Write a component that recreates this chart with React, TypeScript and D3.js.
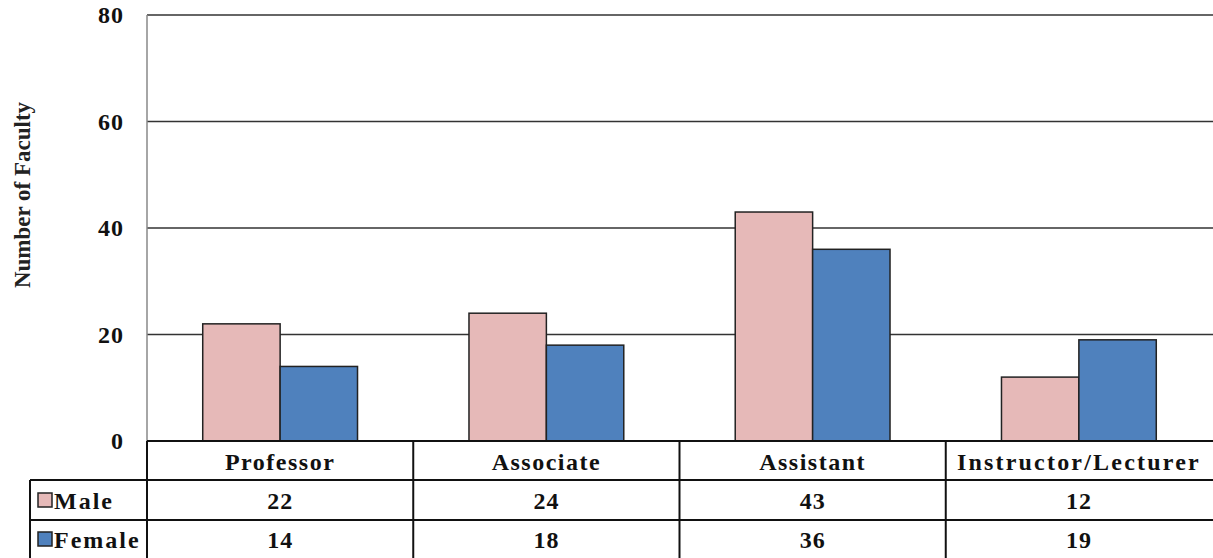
import React from "react";
import * as d3 from "d3";

const categories = ["Professor", "Associate", "Assistant", "Instructor/Lecturer"];
const seriesNames = ["Male", "Female"];
const maleValues = [22, 24, 43, 12];
const femaleValues = [14, 18, 36, 19];
const yTicks = [0, 20, 40, 60, 80];
const colors = ["#E6B9B8", "#4F81BD"];

export default function App() {
  const W = 1213, H = 558;
  const left = 147, right = 1212, top = 15, bottom = 441;
  const tableLeft = 30;
  const rowH = [441, 480, 520, 558];
  const series = [maleValues, femaleValues];

  const x = d3.scaleBand<string>().domain(categories).range([left, right]).paddingInner(0).paddingOuter(0);
  const x1 = d3.scaleBand<string>().domain(seriesNames).range([0, x.bandwidth()]).paddingOuter(0.72).paddingInner(0);
  const y = d3.scaleLinear().domain([0, 80]).range([bottom, top]);
  const font = "'Liberation Serif', 'Times New Roman', serif";

  return (
    <svg width={W} height={H} style={{ position: "absolute", left: 0, top: 0, background: "#fff" }} fontFamily={font}>
      <rect x={0} y={0} width={W} height={H} fill="#fff" />
      {yTicks.filter(t => t > 0).map(t => (
        <line key={t} x1={left} x2={right + 1} y1={y(t)} y2={y(t)} stroke="#333" strokeWidth={1.5} />
      ))}
      <line x1={left} x2={left} y1={top} y2={bottom} stroke="#888" strokeWidth={1.5} />
      {yTicks.map(t => (
        <text key={t} x={124} y={y(t)} dy="0.35em" textAnchor="end" fontSize={24} fontWeight="bold" letterSpacing={1} fill="#111">{t}</text>
      ))}
      <text transform={`translate(22,195) rotate(-90)`} textAnchor="middle" dy="0.35em" fontSize={23} fontWeight="bold" fill="#222">Number of Faculty</text>
      {categories.map((c, i) => (
        <g key={c}>
          {seriesNames.map((s, j) => (
            <rect key={s} x={(x(c) as number) + (x1(s) as number)} y={y(series[j][i])} width={x1.bandwidth()} height={bottom - y(series[j][i])}
              fill={colors[j]} stroke="#222" strokeWidth={1.5} />
          ))}
        </g>
      ))}
      {/* table */}
      <line x1={left} x2={W} y1={rowH[0]} y2={rowH[0]} stroke="#111" strokeWidth={2} />
      <line x1={tableLeft} x2={W} y1={rowH[1]} y2={rowH[1]} stroke="#111" strokeWidth={2} />
      <line x1={tableLeft} x2={W} y1={rowH[2]} y2={rowH[2]} stroke="#111" strokeWidth={2} />
      <line x1={tableLeft} x2={tableLeft} y1={rowH[1]} y2={H} stroke="#111" strokeWidth={2} />
      {categories.map((c) => (
        <line key={c} x1={x(c) as number} x2={x(c) as number} y1={rowH[0]} y2={H} stroke="#111" strokeWidth={2} />
      ))}
      {categories.map((c, i) => (
        <g key={c}>
          <text x={(x(c) as number) + x.bandwidth() / 2} y={(rowH[0] + rowH[1]) / 2 + 1} dy="0.35em" textAnchor="middle" fontSize={24} fontWeight="bold" letterSpacing={i === 3 ? 2.2 : 1.5} fill="#111">{c}</text>
          {series.map((vals, j) => (
            <text key={j} x={(x(c) as number) + x.bandwidth() / 2} y={(rowH[j + 1] + rowH[j + 2]) / 2 + 1} dy="0.35em" textAnchor="middle" fontSize={24} fontWeight="bold" letterSpacing={1} fill="#111">{vals[i]}</text>
          ))}
        </g>
      ))}
      {seriesNames.map((s, j) => (
        <g key={s}>
          <rect x={38} y={(rowH[j + 1] + rowH[j + 2]) / 2 - 7} width={14} height={14} fill={colors[j]} stroke="#222" strokeWidth={1.5} />
          <text x={54} y={(rowH[j + 1] + rowH[j + 2]) / 2 + 1} dy="0.35em" fontSize={24} fontWeight="bold" letterSpacing={2} fill="#111">{s}</text>
        </g>
      ))}
    </svg>
  );
}
